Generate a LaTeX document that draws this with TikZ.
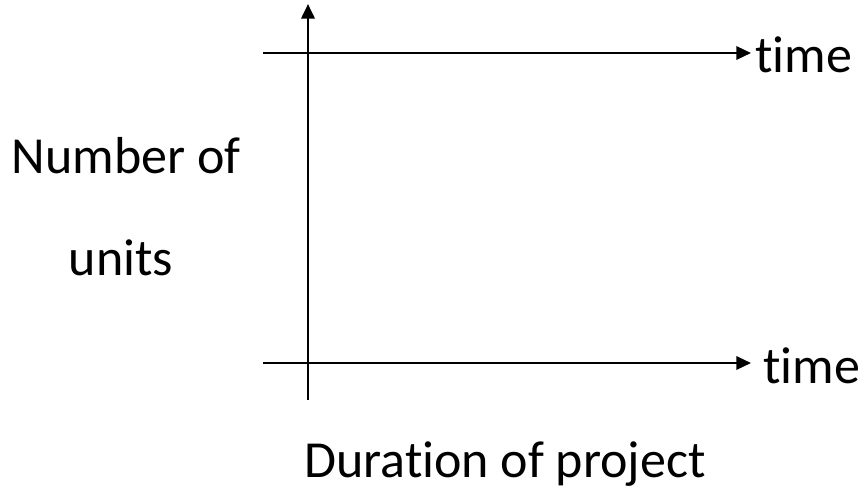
\documentclass[tikz,border=0pt]{standalone}
\usepackage{fontspec}
\setmainfont[Ligatures=NoCommon]{Carlito}
\usetikzlibrary{arrows.meta}

\begin{document}
\begin{tikzpicture}[x=0.75pt, y=-0.75pt, line width=1.7pt,
    axis/.style={-{Triangle[length=11pt, width=10pt]}},
    lbl/.style={font=\fontsize{39}{47}\selectfont, inner sep=0pt}]
  \useasboundingbox (0,0) rectangle (859,493);

  % vertical axis (number of units)
  \coordinate (ybot) at (308,400);
  \coordinate (ytop) at (308,4);
  \draw[axis, line width=2pt] (ybot) -- (ytop);

  % upper time axis
  \coordinate (t1start) at (263,53);
  \coordinate (t1end) at (751,53);
  \draw[axis] (t1start) -- (t1end);
  \node[lbl, anchor=base west] (time1) at (754,72) {time};

  % lower time axis
  \coordinate (t2start) at (263,363);
  \coordinate (t2end) at (751,363);
  \draw[axis] (t2start) -- (t2end);
  \node[lbl, anchor=base west] (time2) at (762,383) {time};

  % labels
  \node[lbl, anchor=base] (units1) at (126,173) {Number of};
  \node[lbl, anchor=base] (units2) at (121,275) {units};
  \node[lbl, anchor=base] (dur) at (505,477) {Duration of project};
\end{tikzpicture}
\end{document}
